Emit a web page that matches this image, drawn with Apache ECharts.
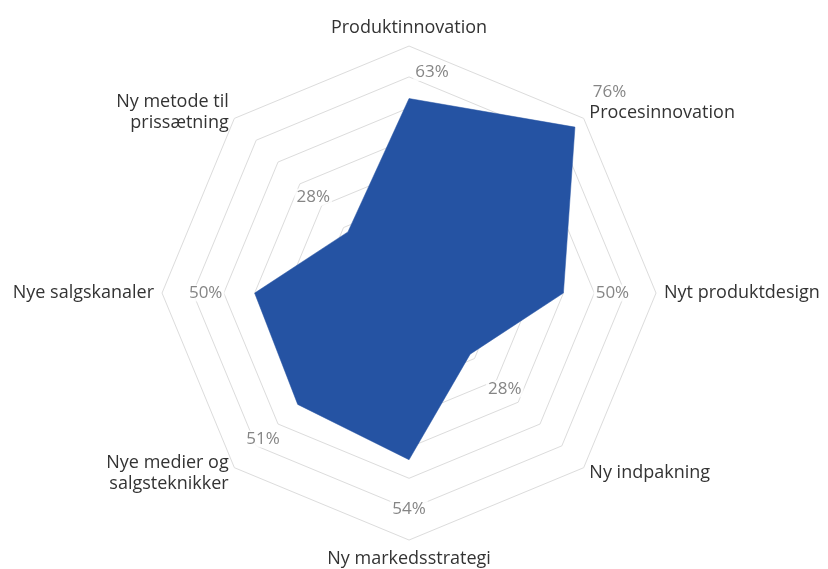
<!DOCTYPE html>
<html>
<head>
<meta charset="utf-8">
<script src="https://cdn.jsdelivr.net/npm/echarts@6/dist/echarts.min.js"></script>
<style>html,body{margin:0;padding:0;background:#fff}#c{width:828px;height:569px}</style>
</head>
<body>
<div id="c"></div>
<script>
// Categories in clockwise order starting at the top
var categories = [
  'Produktinnovation',
  'Procesinnovation',
  'Nyt produktdesign',
  'Ny indpakning',
  'Ny markedsstrategi',
  'Nye medier og\nsalgsteknikker',
  'Nye salgskanaler',
  'Ny metode til\nprissætning'
];
var values = [0.63, 0.76, 0.50, 0.28, 0.54, 0.51, 0.50, 0.28];
var axisMax = 0.8;
var ringCount = 8;

var CENTER = ['49.4%', '51.5%'];
var RADIUS = 247;
var FONT = 'Open Sans';

// ECharts radar places indicators counter-clockwise; reorder so the picture runs clockwise
var order = [0, 7, 6, 5, 4, 3, 2, 1];
var radarIndicators = order.map(function (i) { return { name: categories[i], min: 0, max: axisMax }; });
var radarValues = order.map(function (i) { return values[i]; });

// label points placed in a polar overlay sharing the radar's centre/radius
var labelData = values.map(function (v, i) {
  var ang = i * 360 / categories.length;
  var rad = ang * Math.PI / 180;
  var d = 49;
  var off = [d * Math.sin(rad), -d * Math.cos(rad)];
  if (i === 0) off = [23, -26];
  return { value: [v, ang], label: { offset: off } };
});

var chart = echarts.init(document.getElementById('c'), null, { renderer: 'canvas' });
chart.setOption({
  animation: false,
  backgroundColor: '#fff',
  radar: {
    center: CENTER,
    radius: RADIUS,
    startAngle: 90,
    shape: 'polygon',
    splitNumber: ringCount,
    indicator: radarIndicators,
    nameGap: 8,
    axisName: { color: '#333333', fontSize: 18, fontFamily: FONT, lineHeight: 21 },
    splitLine: { lineStyle: { color: '#dcdcdc', width: 1 } },
    splitArea: { show: false },
    axisLine: { show: false },
    axisTick: { show: false },
    axisLabel: { show: false }
  },
  polar: { center: CENTER, radius: RADIUS },
  angleAxis: { type: 'value', min: 0, max: 360, startAngle: 90, clockwise: true, show: false },
  radiusAxis: { type: 'value', min: 0, max: axisMax, show: false },
  series: [
    {
      type: 'radar',
      symbol: 'none',
      lineStyle: { width: 0.5, color: '#2553A3' },
      areaStyle: { color: '#2553A3', opacity: 1 },
      data: [{ value: radarValues }]
    },
    {
      type: 'scatter',
      coordinateSystem: 'polar',
      symbolSize: 0,
      silent: true,
      data: labelData,
      label: {
        show: true,
        position: 'inside',
        color: '#666666',
        fontSize: 17,
        fontFamily: FONT,
        backgroundColor: '#fff',
        padding: [0, 2],
        formatter: function (p) { return Math.round(p.value[0] * 100) + '%'; }
      }
    }
  ]
});
</script>
</body>
</html>
